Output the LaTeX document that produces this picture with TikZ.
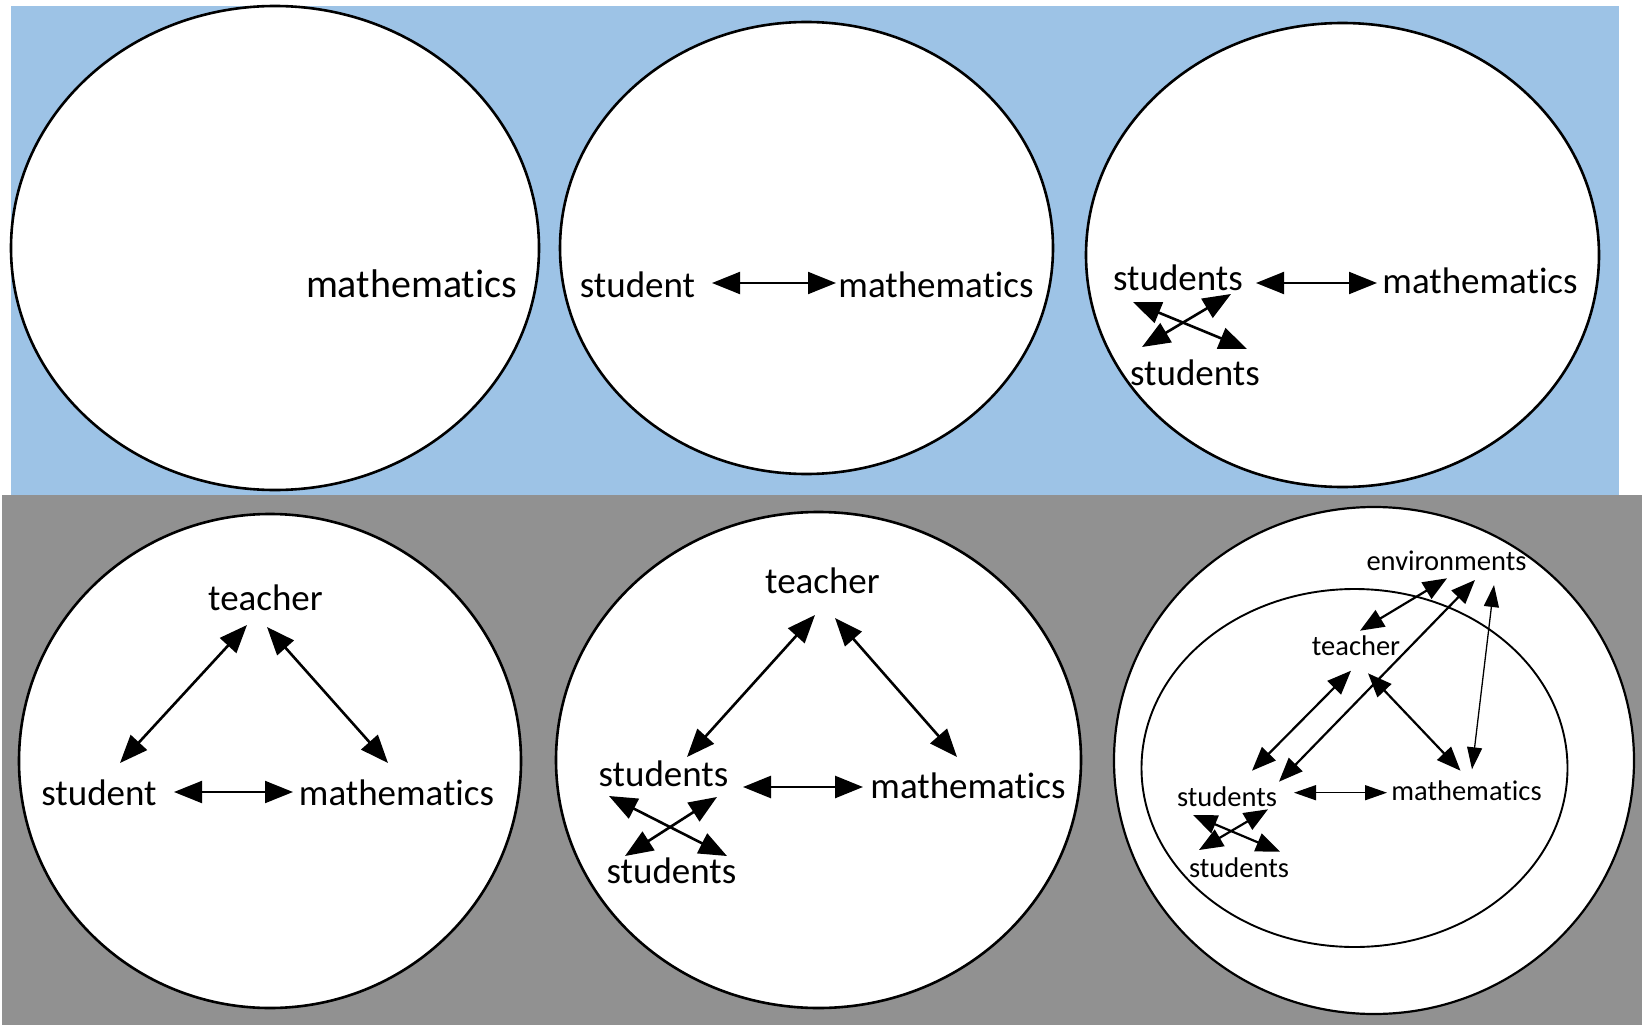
\documentclass[tikz,border=0pt]{standalone}
\usepackage{fontspec}
\setmainfont{Carlito}[Ligatures={NoCommon,NoContextual}]
\usepackage{tikz}
\usetikzlibrary{arrows.meta,calc}
\definecolor{panelblue}{HTML}{9DC3E6}
\definecolor{panelgray}{HTML}{919191}

\begin{document}
\begin{tikzpicture}[x=1pt,y=-1pt,line cap=round,
  bubble/.style={draw=black,fill=white,line width=2.6pt},
  word/.style={inner sep=0pt,anchor=base,font=\fontsize{37}{44}\selectfont},
  smallword/.style={inner sep=0pt,anchor=base,font=\fontsize{28.5}{34}\selectfont},
  link/.style={line width=2.6pt,{Triangle[length=28pt,width=22pt]}-{Triangle[length=28pt,width=22pt]}},
  slink/.style={line width=2.2pt,{Triangle[length=24pt,width=19pt]}-{Triangle[length=24pt,width=19pt]}},
  tlink/.style={line width=1.3pt,{Triangle[length=22pt,width=15pt]}-{Triangle[length=22pt,width=15pt]}}]
\useasboundingbox (0,0) rectangle (1642,1025);
%% panels
\fill[panelblue] (10.5,6) rectangle (1619,495);
\fill[panelgray] (2,495) rectangle (1642,1025);
%% six bubbles (centre x/y, radii)
\foreach \cx/\cy/\rx/\ry in {275/248/264/242, 806.5/248/246.5/226, 1342.5/255/256.5/232,
                             270/761/251/247, 818.5/760/262.5/248}
  \draw[bubble] (\cx,\cy) ellipse [x radius=\rx, y radius=\ry];
\draw[bubble,line width=2.2pt] (1374,760.5) ellipse [x radius=260, y radius=253.5];
\draw[line width=1.9pt] (1354.5,768) ellipse [x radius=213, y radius=179];

%% 1: mathematics only
\node[word,font=\fontsize{40}{48}\selectfont] (m1) at (411.5,297) {mathematics};

%% 2: student -- mathematics
\node[word] (s2) at (637.5,297) {student};
\node[word] (m2) at (936,297) {mathematics};
\draw[link,line width=2pt] ($(s2.base)+(74.5,-14)$) -- ($(m2.base)+(-100,-14)$);

%% 3: students -- mathematics, students -- students
\node[word] (s3a) at (1178,290) {students};
\node[word] (m3) at (1480,293) {mathematics};
\node[word] (s3b) at (1195,385) {students};
\draw[link,line width=2pt] ($(s3a.base)+(78,-7)$) -- ($(m3.base)+(-103,-10)$);
\draw[link] ($(s3a.base)+(-45,12)$) -- ($(s3b.base)+(52,-36)$);
\draw[link] ($(s3b.base)+(-53,-38)$) -- ($(s3a.base)+(53,4)$);

%% 4: didactic triangle
\node[word] (t4) at (265.5,610) {teacher};
\node[word] (s4) at (99,805) {student};
\node[word] (m4) at (396.5,805) {mathematics};
\draw[link] ($(t4.base)+(-18.5,15)$) -- ($(s4.base)+(21,-42)$);
\draw[link] ($(t4.base)+(1.5,17)$) -- ($(m4.base)+(-8.5,-42)$);
\draw[link,line width=2pt] ($(s4.base)+(75,-13)$) -- ($(m4.base)+(-103.5,-13)$);

%% 5: triangle with students
\node[word] (t5) at (822.5,593) {teacher};
\node[word] (s5a) at (663.5,786) {students};
\node[word] (m5) at (968,798) {mathematics};
\node[word] (s5b) at (671.5,883) {students};
\draw[link] ($(t5.base)+(-7.5,22)$) -- ($(s5a.base)+(23.5,-29)$);
\draw[link] ($(t5.base)+(12.5,25)$) -- ($(m5.base)+(-11,-41)$);
\draw[link] ($(s5a.base)+(79.5,1)$) -- ($(m5.base)+(-105,-11)$);
\draw[link] ($(s5a.base)+(-54.5,10)$) -- ($(s5b.base)+(55.5,-27)$);
\draw[link] ($(s5b.base)+(-46.5,-27)$) -- ($(s5a.base)+(53.5,11)$);

%% 6: triangle inside environments
\node[smallword] (env) at (1446.5,570) {environments};
\node[smallword] (t6) at (1356,655) {teacher};
\node[smallword] (s6a) at (1227,806) {students};
\node[smallword] (m6) at (1466.5,800) {mathematics};
\node[smallword] (s6b) at (1239,877) {students};
\draw[slink] ($(env.base)+(0.5,8.3)$) -- ($(t6.base)+(4,-24.3)$);
\draw[slink] ($(env.base)+(28.5,10)$) -- ($(s6a.base)+(52,-24.3)$);
\draw[tlink] ($(env.base)+(47.5,15)$) -- ($(m6.base)+(5.5,-30.7)$);
\draw[slink] ($(t6.base)+(-5,15.7)$) -- ($(s6a.base)+(25,-35.3)$);
\draw[slink] ($(t6.base)+(12,18.3)$) -- ($(m6.base)+(-6,-29.3)$);
\draw[tlink] ($(s6a.base)+(67,-13.3)$) -- ($(m6.base)+(-79.5,-7.3)$);
\draw[slink] ($(s6a.base)+(-34,9)$) -- ($(s6b.base)+(41,-25.3)$);
\draw[slink] ($(s6b.base)+(-40,-27)$) -- ($(s6a.base)+(41,3.3)$);
\end{tikzpicture}
\end{document}
